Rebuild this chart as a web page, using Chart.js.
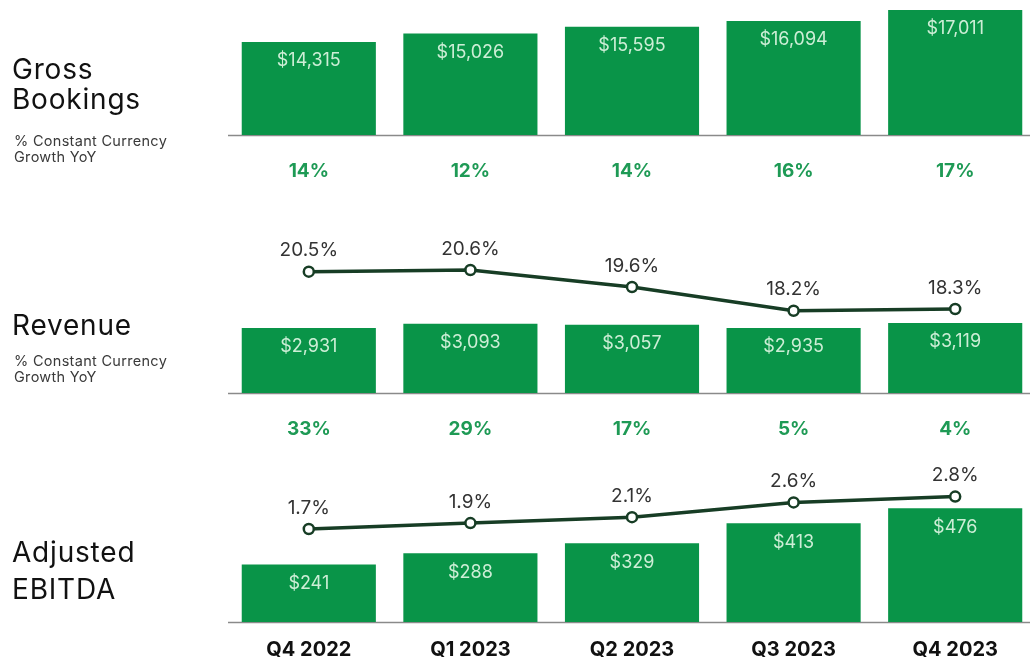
<!DOCTYPE html>
<html>
<head>
<meta charset="utf-8">
<script src="https://cdn.jsdelivr.net/npm/chart.js@4/dist/chart.umd.min.js"></script>
<style>
  html, body { margin: 0; padding: 0; background: #fff; overflow: hidden; }
  #wrap { position: absolute; left: 0; top: 0; width: 1040px; height: 660px; }
  .title { position: absolute; left: 12px; font-family: Inter, sans-serif; font-size: 28px; letter-spacing: 0.8px; color: #111; white-space: nowrap; }
  .sub { position: absolute; left: 14px; font-family: Inter, sans-serif; font-size: 14.5px; letter-spacing: 0.3px; line-height: 16px; color: #3a3a3a; white-space: nowrap; }
</style>
</head>
<body>
<div id="wrap"><canvas id="chart"></canvas></div>

<!-- Libellés de gauche -->
<div class="title" style="top:54px; line-height:30px;">Gross<br>Bookings</div>
<div class="sub" style="top:133px;">% Constant Currency<br>Growth YoY</div>
<div class="title" style="top:310px; line-height:30px;">Revenue</div>
<div class="sub" style="top:353px;">% Constant Currency<br>Growth YoY</div>
<div class="title" style="top:534px; line-height:37px;">Adjusted<br>EBITDA</div>

<script>
// ── DONNÉES ─────────────────────────────────────────────
const quarters      = ['Q4 2022', 'Q1 2023', 'Q2 2023', 'Q3 2023', 'Q4 2023'];
const grossBookings = [14315, 15026, 15595, 16094, 17011];   // $M
const gbGrowth      = [14, 12, 14, 16, 17];                  // % cc YoY
const revenue       = [2931, 3093, 3057, 2935, 3119];        // $M
const revGrowth     = [33, 29, 17, 5, 4];                    // % cc YoY
const takeRate      = [20.5, 20.6, 19.6, 18.2, 18.3];        // % of GB
const adjEbitda     = [241, 288, 329, 413, 476];             // $M
const ebitdaMargin  = [1.7, 1.9, 2.1, 2.6, 2.8];             // % of GB

// ── MISE EN PAGE ────────────────────────────────────────
// zone de tracé : du haut (0) jusqu'à la ligne de base EBITDA (622)
const AREA_H = 622;
const GREEN = '#099448';
const DARK  = '#173d25';

// Échelle cachée : valeur de base posée sur une ligne (px), et px par unité
function range(baseVal, basePx, pxPerUnit) {
  const min = baseVal - (AREA_H - basePx) / pxPerUnit;
  return { min, max: min + AREA_H / pxPerUnit };
}
const gbRange   = range(6480, 135, 0.01187);
const revRange  = range(487, 393, 0.0266);
const takeRange = range(20.5, 271.7, 16.96);
const ebRange   = range(0, 622, 0.239);
const mgnRange  = range(1.7, 529, 29.5);

const GB_BASE = 6480, REV_BASE = 487, EB_BASE = 0;

const money = v => '$' + v.toLocaleString('en-US');
const pct1  = v => v.toFixed(1) + '%';

// ── PLUGIN : lignes de base, étiquettes, croissances ────
const annotations = {
  id: 'annotations',
  beforeDatasetsDraw(chart) {
    const { ctx, chartArea, scales } = chart;
    ctx.save();
    ctx.strokeStyle = '#8a8a8a';
    ctx.lineWidth = 1.5;
    [['yGB', GB_BASE], ['yRev', REV_BASE], ['yEb', EB_BASE]].forEach(([id, v]) => {
      const y = Math.round(scales[id].getPixelForValue(v)) + 0.5;
      ctx.beginPath();
      ctx.moveTo(chartArea.left, y);
      ctx.lineTo(chart.width, y);
      ctx.stroke();
    });
    ctx.restore();
  },
  afterDatasetsDraw(chart) {
    const { ctx, scales } = chart;
    ctx.save();
    ctx.textAlign = 'center';
    ctx.textBaseline = 'middle';

    // montants dans les barres
    ctx.font = '400 18px Inter, sans-serif';
    ctx.fillStyle = '#cdeed6';
    [0, 1, 2].forEach(i => {
      const ds = chart.data.datasets[i];
      chart.getDatasetMeta(i).data.forEach((bar, j) => {
        ctx.fillText(money(ds.data[j]), bar.x, bar.y + 19);
      });
    });

    // pourcentages au-dessus des points
    ctx.font = '400 19px Inter, sans-serif';
    ctx.fillStyle = '#333';
    [3, 4].forEach(i => {
      const ds = chart.data.datasets[i];
      chart.getDatasetMeta(i).data.forEach((pt, j) => {
        ctx.fillText(pct1(ds.data[j]), pt.x, pt.y - 21);
      });
    });

    // croissance YoY sous les panneaux
    ctx.font = '700 19px Inter, sans-serif';
    ctx.fillStyle = '#1e9a55';
    const rows = [[gbGrowth, 'yGB', GB_BASE], [revGrowth, 'yRev', REV_BASE]];
    rows.forEach(([vals, id, base]) => {
      const y = scales[id].getPixelForValue(base) + 36;
      vals.forEach((v, j) => ctx.fillText(v + '%', scales.x.getPixelForValue(j), y));
    });
    ctx.restore();
  }
};

const barStyle = { type: 'bar', backgroundColor: GREEN, grouped: false, barPercentage: 0.83, categoryPercentage: 1, order: 2 };
const lineStyle = {
  type: 'line', borderColor: DARK, borderWidth: 3.5,
  pointRadius: 5, pointBackgroundColor: '#fff', pointBorderColor: DARK, pointBorderWidth: 2.5,
  tension: 0, order: 1
};

new Chart(document.getElementById('chart'), {
  data: {
    labels: quarters,
    datasets: [
      { ...barStyle, label: 'Gross Bookings', data: grossBookings, yAxisID: 'yGB', base: GB_BASE },
      { ...barStyle, label: 'Revenue', data: revenue, yAxisID: 'yRev', base: REV_BASE },
      { ...barStyle, label: 'Adjusted EBITDA', data: adjEbitda, yAxisID: 'yEb', base: EB_BASE },
      { ...lineStyle, label: 'Take rate', data: takeRate, yAxisID: 'yTake' },
      { ...lineStyle, label: 'Adj. EBITDA margin', data: ebitdaMargin, yAxisID: 'yMgn' }
    ]
  },
  options: {
    responsive: true,
    maintainAspectRatio: false,
    animation: false,
    layout: { autoPadding: false, padding: { left: 228, right: 4, top: 0, bottom: 0 } },
    plugins: { legend: { display: false }, tooltip: { enabled: false } },
    scales: {
      x: {
        grid: { display: false, drawTicks: false },
        border: { display: false },
        ticks: { color: '#111', padding: 16, font: { family: 'Inter, sans-serif', size: 20, weight: '700' } },
        afterFit: axis => { axis.height = 660 - AREA_H; }
      },
      yGB:   { display: false, ...gbRange },
      yRev:  { display: false, ...revRange },
      yEb:   { display: false, ...ebRange },
      yTake: { display: false, ...takeRange },
      yMgn:  { display: false, ...mgnRange }
    }
  },
  plugins: [annotations]
});
</script>
</body>
</html>
